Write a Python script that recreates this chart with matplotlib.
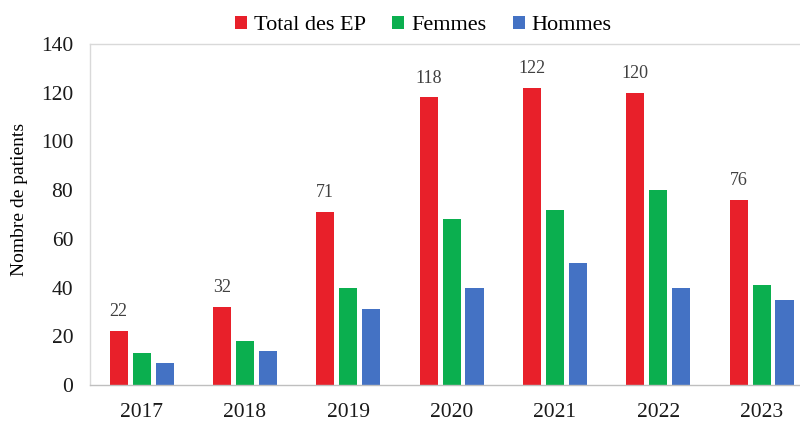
import matplotlib
matplotlib.use("Agg")
import matplotlib.pyplot as plt
import numpy as np

years = ["2017", "2018", "2019", "2020", "2021", "2022", "2023"]
total = [22, 32, 71, 118, 122, 120, 76]
femmes = [13, 18, 40, 68, 72, 80, 41]
hommes = [9, 14, 31, 40, 50, 40, 35]

plt.rcParams["font.family"] = ["Liberation Serif", "DejaVu Serif"]

fig = plt.figure(figsize=(8, 4.28), dpi=100)
ax = fig.add_axes([0.1125, 0.1005, 0.904, 0.797])

x = np.arange(len(years))
w = 0.175
off = 0.222
ax.bar(x - off, total, w, color="#E8202A", label="Total des EP")
ax.bar(x, femmes, w, color="#0BAF4F", label="Femmes")
ax.bar(x + off, hommes, w, color="#4472C4", label="Hommes")

for xi, v in zip(x, total):
    ax.text(xi - off, v + 4.5, str(v), ha="center", va="bottom", fontsize=13, color="#404040")

ax.set_xlim(-0.5, 6.5)
ax.set_ylim(0, 140)
ax.set_yticks(range(0, 141, 20))
ax.set_xticks(x)
ax.set_xticklabels(years)
ax.tick_params(axis="both", length=0, labelsize=15.5, colors="#1a1a1a")
ax.tick_params(axis="x", pad=13)
ax.tick_params(axis="y", pad=12)
ax.set_ylabel("Nombre de patients", fontsize=14)
ax.yaxis.set_label_coords(-0.086, 0.545)

for s in ax.spines.values():
    s.set_color("#D9D9D9")
    s.set_linewidth(1.0)
ax.spines["bottom"].set_color("#BFBFBF")

fig.legend(loc="center", bbox_to_anchor=(0.529, 0.94), ncol=3, frameon=False,
           fontsize=16, handlelength=0.55, handleheight=0.55, handletextpad=0.3,
           columnspacing=1.2)

fig.savefig("out.png", dpi=100)
